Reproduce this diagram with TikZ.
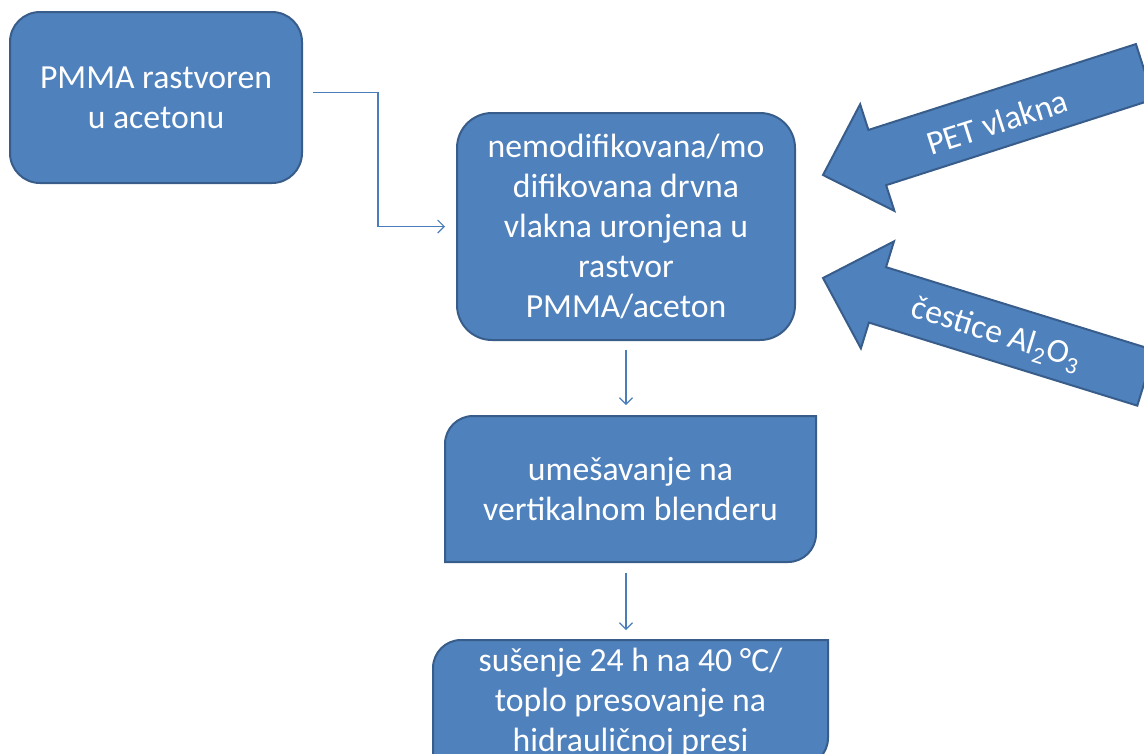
\documentclass[tikz,border=0pt]{standalone}
\usepackage{fontspec}
\setmainfont{Carlito}
\usetikzlibrary{arrows.meta,backgrounds}
\definecolor{boxfill}{HTML}{4F81BD}
\definecolor{boxline}{HTML}{385D8A}
\definecolor{linkcol}{HTML}{4A7EBB}

\begin{document}
\begin{tikzpicture}[x=1pt,y=-1pt,
  blocktext/.style={text=white,align=center,inner sep=0pt,outer sep=0pt,font=\fontsize{33.7}{40}\selectfont},
  block/.style={blocktext,fill=boxfill,draw=boxline,line width=2pt,rounded corners=30pt},
  blockshape/.style={fill=boxfill,draw=boxline,line width=2pt},
  link/.style={draw=linkcol,line width=1.1pt,-{Straight Barb[length=6.5pt,width=13pt]}}]
  \useasboundingbox (0,0) rectangle (1144,753);

  \node[block,minimum width=292pt,minimum height=171pt] (pmma) at (156,97.5) {PMMA rastvoren\\u acetonu};
  \node[block,rounded corners=35pt,minimum width=338pt,minimum height=227pt] (fibers) at (626,226.5)
    {nemodifikovana/mo\\difikovana drvna\\vlakna uronjena u\\rastvor\\PMMA/aceton};
  \node[blocktext,minimum width=371pt,minimum height=146pt] (mix) at (630.5,489) {umešavanje na\\vertikalnom blenderu};
  \node[blocktext,minimum width=395pt,minimum height=126pt] (press) at (630.5,703)
    {sušenje 24 h na 40 °C/\\toplo presovanje na\\hidrauličnoj presi};

  \begin{scope}[on background layer]
    \foreach \b in {mix,press} {
      \draw[blockshape] (\b.north east) -- ([xshift=28pt]\b.north west) arc[start angle=90,end angle=180,radius=28pt]
        -- (\b.south west) -- ([xshift=-28pt]\b.south east) arc[start angle=270,end angle=360,radius=28pt] -- cycle;
    }
  \end{scope}

  \draw[link] ([shift={(11pt,5pt)}]pmma.east) -- ++(65,0) |- ([xshift=-12pt]fibers.west);
  \draw[link,shorten <=10pt,shorten >=11pt] (fibers.south) -- (fibers.south |- mix.north);
  \draw[link,shorten <=11pt,shorten >=10pt] (mix.south -| fibers.south) -- (fibers.south |- press.north);

  \foreach \ty/\ang/\lab in {175/17.8/PET vlakna,278/-17.2/{čestice Al\textsubscript{2}O\textsubscript{3}}} {
    \begin{scope}[shift={(823,\ty)},rotate=\ang]
      \draw[blockshape] (0,0) -- (57,-56) -- (57,-29) -- (338,-29) -- (338,29) -- (57,29) -- (57,56) -- cycle;
      \node[blocktext,rotate=\ang] (lbl) at (182,3) {\lab};
    \end{scope}
  }
\end{tikzpicture}
\end{document}
